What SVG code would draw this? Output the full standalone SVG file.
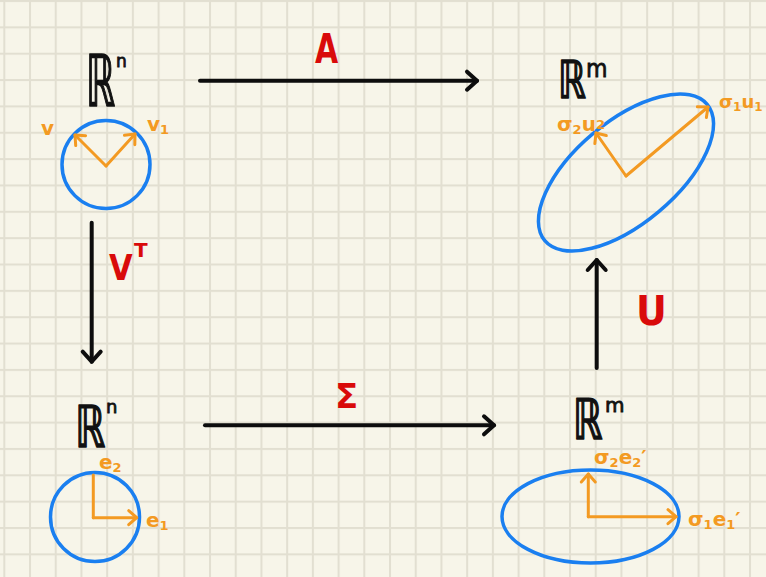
<svg xmlns="http://www.w3.org/2000/svg" width="766" height="577" viewBox="0 0 766 577">
<style>
.space{font-family:"DejaVu Sans","Noto Sans",sans-serif;fill:#111;stroke:#111;stroke-width:1.6;stroke-linejoin:round}
.sup{font-family:"DejaVu Sans","Noto Sans",sans-serif;fill:#111;stroke:#111;stroke-width:0.8}
.op{font-family:"DejaVu Sans","Liberation Sans",sans-serif;font-weight:bold;fill:#d90a0a}
.vlab{font-family:"DejaVu Sans","Liberation Sans",sans-serif;font-weight:bold;fill:#f39a22}
.shape{fill:none;stroke:#1a7ff0;stroke-width:3.5}
.vec{fill:none;stroke:#f39a22;stroke-width:3;stroke-linecap:round;marker-end:url(#oarrow)}
.edge{fill:none;stroke:#0d0d0d;stroke-width:4;stroke-linecap:round;marker-end:url(#barrow)}
</style>
<defs>
<pattern id="grid" patternUnits="userSpaceOnUse" x="3.3" y="0" width="25.714" height="26.35">
<rect x="0" y="0" width="25.714" height="26.35" fill="#f7f5e9"/>
<rect x="0" y="0" width="2" height="26.35" fill="#e2dfd1"/>
<rect x="0" y="0" width="25.714" height="2" fill="#e2dfd1"/>
</pattern>
<marker id="barrow" markerUnits="userSpaceOnUse" orient="auto" markerWidth="30" markerHeight="30" refX="15" refY="15" viewBox="0 0 30 30" overflow="visible">
<path d="M5 6 L15 15 L5 24" fill="none" stroke="#0d0d0d" stroke-width="4" stroke-linecap="round" stroke-linejoin="round"/>
</marker>
<marker id="oarrow" markerUnits="userSpaceOnUse" orient="auto" markerWidth="24" markerHeight="24" refX="12" refY="12" viewBox="0 0 24 24" overflow="visible">
<path d="M4 5 L12 12 L4 19" fill="none" stroke="#f39a22" stroke-width="3" stroke-linecap="round" stroke-linejoin="round"/>
</marker>
</defs>
<rect x="0" y="0" width="766" height="577" fill="url(#grid)"/>

<g id="connectors">
<g id="edge-A">
<path class="edge" d="M200 80.7 H477"/>
<text class="op" font-size="40" transform="translate(315 63) scale(0.75 1)">A</text>
</g>
<g id="edge-VT">
<path class="edge" d="M91.7 222.7 V361.7"/>
<text class="op" font-size="36" transform="translate(109 280) scale(0.85 1)">V</text>
<text class="op" font-size="20" x="134" y="257">T</text>
</g>
<g id="edge-Sigma">
<path class="edge" d="M205 425.3 H494"/>
<text class="op" font-size="34" x="335" y="408">Σ</text>
</g>
<g id="edge-U">
<path class="edge" d="M596.7 368 V260"/>
<text class="op" font-size="40" transform="translate(636 325) scale(0.95 1)">U</text>
</g>
</g>

<g id="node-Rn-top">
<text class="space" font-size="71" transform="translate(86 106) scale(0.52 1)">ℝ</text>
<text class="sup" x="116" y="67" font-size="17">n</text>
<circle class="shape" cx="106" cy="164.5" r="44"/>
<path class="vec" d="M106 166 L75 135"/>
<path class="vec" d="M106 166 L135 134"/>
<text class="vlab" x="41" y="135" font-size="20">v</text>
<text class="vlab" x="147" y="131" font-size="20">v<tspan font-size="13" dy="3">1</tspan></text>
</g>

<g id="node-Rm-top">
<text class="space" font-size="52" transform="translate(558 98) scale(0.68 1)">ℝ</text>
<text class="sup" font-size="24" transform="translate(586 77) scale(0.92 1)">m</text>
<ellipse class="shape" cx="626" cy="172.5" rx="106" ry="51" transform="rotate(-40 626 172.5)"/>
<path class="vec" d="M626 176 L708 107"/>
<path class="vec" d="M626 176 L596 133"/>
<text class="vlab" x="719" y="108" font-size="18">σ<tspan font-size="12" dy="3">1</tspan><tspan dy="-3">u</tspan><tspan font-size="12" dy="3">1</tspan></text>
<text class="vlab" x="557" y="131" font-size="20">σ<tspan font-size="13" dy="3">2</tspan><tspan dy="-3">u</tspan><tspan font-size="13" dy="-2">2</tspan></text>
</g>

<g id="node-Rn-bottom">
<text class="space" font-size="58" transform="translate(75 447) scale(0.66 1)">ℝ</text>
<text class="sup" x="106" y="413" font-size="18">n</text>
<circle class="shape" cx="95" cy="517" r="44.5"/>
<path d="M93.3 517.7 V475" fill="none" stroke="#f39a22" stroke-width="3" stroke-linecap="round"/>
<path class="vec" d="M93.3 517.7 H136.7"/>
<text class="vlab" x="99" y="469" font-size="20">e<tspan font-size="13" dy="3">2</tspan></text>
<text class="vlab" x="146" y="527" font-size="20">e<tspan font-size="13" dy="3">1</tspan></text>
</g>

<g id="node-Rm-bottom">
<text class="space" font-size="56" transform="translate(573 439) scale(0.67 1)">ℝ</text>
<text class="sup" x="605" y="412" font-size="20">m</text>
<ellipse class="shape" cx="590.5" cy="516.5" rx="88.5" ry="46.5"/>
<path class="vec" d="M588.3 516.7 V474"/>
<path class="vec" d="M588.3 516.7 H676"/>
<text class="vlab" x="594" y="464" font-size="20">σ<tspan font-size="13" dy="3">2</tspan><tspan dy="-3">e</tspan><tspan font-size="13" dy="3">2</tspan><tspan dy="-3">′</tspan></text>
<text class="vlab" x="688" y="526" font-size="20">σ<tspan font-size="13" dy="3">1</tspan><tspan dy="-3">e</tspan><tspan font-size="13" dy="3">1</tspan><tspan dy="-3">′</tspan></text>
</g>
</svg>
